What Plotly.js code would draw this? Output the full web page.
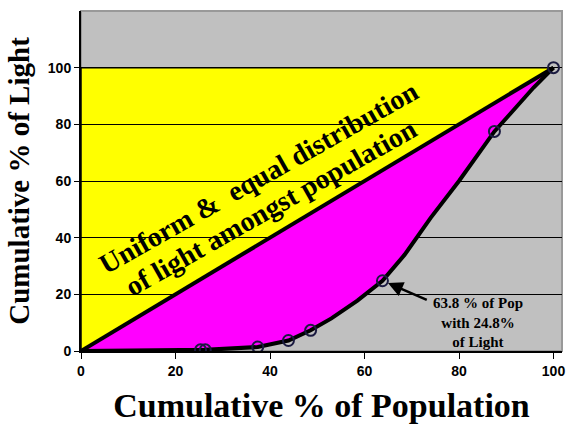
<!DOCTYPE html>
<html>
<head>
<meta charset="utf-8">
<script src="https://cdn.plot.ly/plotly-3.0.1.min.js"></script>
<style>html,body{margin:0;padding:0;background:#fff;}#chart{width:566px;height:424px;}</style>
</head>
<body>
<div id="chart"></div>
<script>
// Lorenz curve of light distribution
const curvePop   = [0, 10, 20, 25.3, 26.3, 37.4, 43.9, 48.6, 53, 58.5, 63.8, 68.5, 74, 80, 87.5, 91, 95.8, 100];
const curveLight = [0, 0.2, 0.3, 0.4, 0.4, 1.4, 3.7, 7.3, 11.5, 17.8, 24.8, 34, 47, 60, 77.5, 84, 93, 100];
// points marked with circles
const markPop   = [25.3, 26.3, 37.4, 43.9, 48.6, 63.8, 87.5, 100];
const markLight = [0.4, 0.4, 1.4, 3.7, 7.3, 24.8, 77.5, 100];
// line of equality
const eqPop   = [0, 100];
const eqLight = [0, 100];
const xTicks = [0, 20, 40, 60, 80, 100];
const yTicks = [0, 20, 40, 60, 80, 100];

const serif = "Liberation Serif, Times New Roman, serif";
const sans = "Liberation Sans, Arial, sans-serif";

// magenta area between equality line and Lorenz curve
const magX = eqPop.concat(curvePop.slice().reverse());
const magY = eqLight.concat(curveLight.slice().reverse());

// yellow triangle above equality line (shape below gridlines)
const yPath = 'M ' + eqPop[0] + ',' + eqLight[0] + ' L ' + eqPop[0] + ',' + eqLight[1] +
              ' L ' + eqPop[1] + ',' + eqLight[1] + ' Z';

const traces = [
  {x: magX, y: magY, type: 'scatter', mode: 'none', fill: 'toself', fillcolor: '#FF00FF', hoverinfo: 'skip'},
  {x: eqPop, y: eqLight, type: 'scatter', mode: 'lines', line: {color: '#000', width: 4}, hoverinfo: 'skip'},
  {x: curvePop, y: curveLight, type: 'scatter', mode: 'lines', line: {color: '#000', width: 4}, hoverinfo: 'skip'},
  {x: markPop, y: markLight, type: 'scatter', mode: 'markers',
   marker: {symbol: 'circle-open', size: 11, color: '#1a1a40', line: {width: 2}}, hoverinfo: 'skip'}
];

const layout = {
  width: 566, height: 424,
  margin: {l: 81, r: 4, t: 11, b: 73},
  paper_bgcolor: '#ffffff',
  plot_bgcolor: '#C0C0C0',
  showlegend: false,
  xaxis: {
    range: [0, 101.8], tickvals: xTicks, ticktext: xTicks.map(String),
    showgrid: false, zeroline: false,
    showline: true, linecolor: '#000', linewidth: 2,
    ticks: 'outside', ticklen: 6, tickcolor: '#000', tickwidth: 1,
    tickfont: {family: sans, size: 14, color: '#000', weight: 'bold'},
    title: {text: 'Cumulative % of Population', font: {family: serif, size: 34, color: '#000', weight: 'bold'}, standoff: 15}
  },
  yaxis: {
    range: [0, 120], tickvals: yTicks, ticktext: yTicks.map(String),
    showgrid: true, gridcolor: '#000', gridwidth: 1, zeroline: false,
    showline: true, linecolor: '#000', linewidth: 2,
    ticks: 'outside', ticklen: 5, tickcolor: '#000', tickwidth: 1,
    tickfont: {family: sans, size: 14, color: '#000', weight: 'bold'},
    title: {text: 'Cumulative % of Light', font: {family: serif, size: 29, color: '#000', weight: 'bold'}, standoff: 10}
  },
  shapes: [
    {type: 'path', path: yPath, xref: 'x', yref: 'y', fillcolor: '#FFFF00', line: {color: '#000', width: 1.5}, layer: 'below'},
    {type: 'rect', xref: 'paper', yref: 'paper', x0: 0, x1: 1, y0: 0, y1: 1, line: {color: '#999', width: 2}, layer: 'below'}
  ],
  annotations: [
    {x: 37.6, y: 61.2, xref: 'x', yref: 'y', showarrow: false, textangle: -29.5,
     text: 'Uniform &amp;  equal distribution',
     font: {family: serif, size: 28, color: '#000', weight: 'bold'}},
    {x: 40.2, y: 50.8, xref: 'x', yref: 'y', showarrow: false, textangle: -29.5,
     text: 'of light amongst population',
     font: {family: serif, size: 28, color: '#000', weight: 'bold'}},
    {x: markPop[5], y: markLight[5], xref: 'x', yref: 'y', axref: 'x', ayref: 'y', ax: 73.5, ay: 17.8,
     text: '', showarrow: true, arrowhead: 2, arrowsize: 1.2, arrowwidth: 2.5, arrowcolor: '#000', standoff: 6},
    {x: 84, y: 10, xref: 'x', yref: 'y', showarrow: false, align: 'center',
     text: '63.8 % of Pop<br>with 24.8%<br>of Light',
     font: {family: serif, size: 15, color: '#000', weight: 'bold'}}
  ]
};

Plotly.newPlot('chart', traces, layout, {staticPlot: true, displayModeBar: false});
</script>
</body>
</html>
